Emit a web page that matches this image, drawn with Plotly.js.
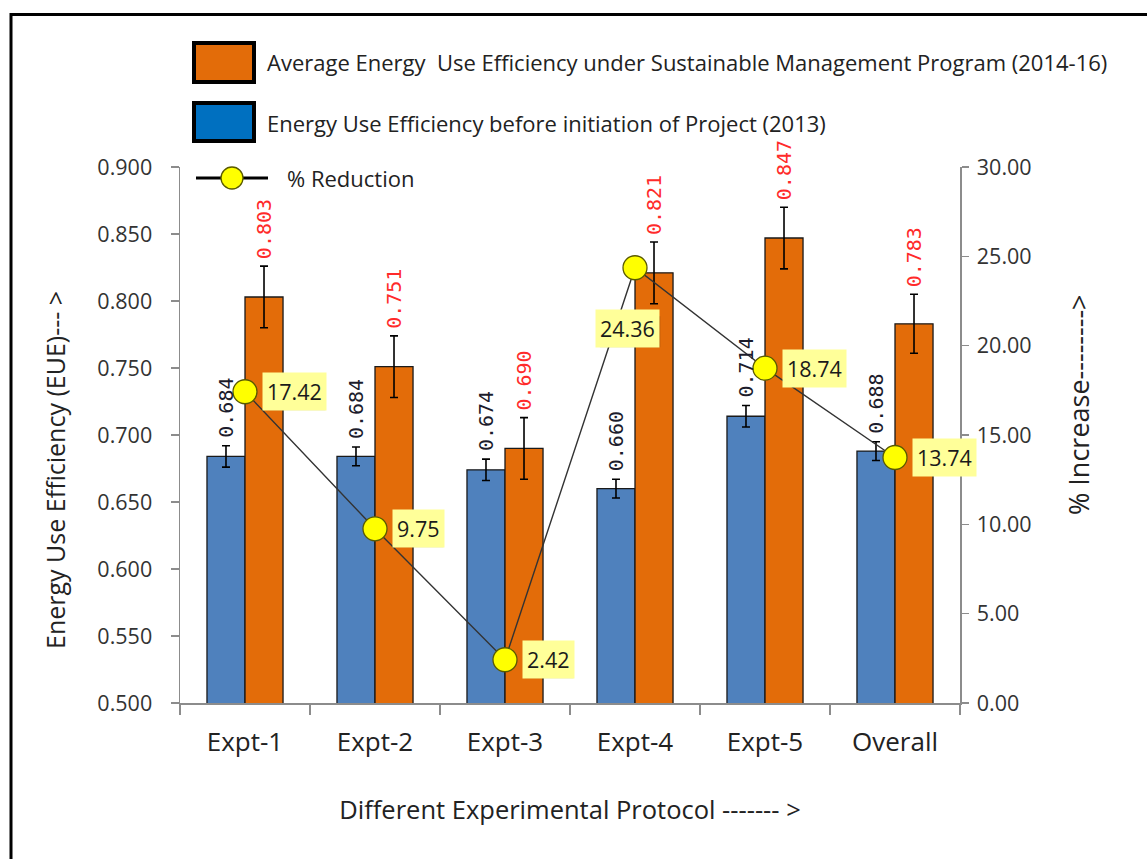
<!DOCTYPE html>
<html>
<head>
<meta charset="utf-8">
<script src="https://cdn.plot.ly/plotly-3.0.1.min.js"></script>
<style>html,body{margin:0;padding:0;background:#fff;}#chart{width:1147px;height:859px;}</style>
</head>
<body>
<div id="chart"></div>
<script>
// ---- data ----
const categories = ["Expt-1", "Expt-2", "Expt-3", "Expt-4", "Expt-5", "Overall"];
const eueBefore = [0.684, 0.684, 0.674, 0.660, 0.714, 0.688];
const eueBeforeErr = [0.008, 0.007, 0.008, 0.007, 0.008, 0.007];
const eueAfter = [0.803, 0.751, 0.690, 0.821, 0.847, 0.783];
const eueAfterErr = [0.023, 0.023, 0.023, 0.023, 0.023, 0.022];
const pctChange = [17.42, 9.75, 2.42, 24.36, 18.74, 13.74];
const pctLabelSide = ["right", "right", "right", "below", "right", "right"];
const leftTicks = [0.5, 0.55, 0.6, 0.65, 0.7, 0.75, 0.8, 0.85, 0.9];
const rightTicks = [0, 5, 10, 15, 20, 25, 30];
const legendAfter = "Average Energy  Use Efficiency under Sustainable Management Program (2014-16)";
const legendBefore = "Energy Use Efficiency before initiation of Project (2013)";
const legendPct = "% Reduction";
const xTitle = "Different Experimental Protocol ------- >";
const yTitle = "Energy Use Efficiency (EUE)--- >";
const y2Title = "% Increase-------->";

// ---- styles ----
const FONT = "'Open Sans', Lato, sans-serif";
const MONO = "'DejaVu Sans Mono', monospace";
const BLUE = "#4F81BD", ORANGE = "#E36C09";

const traces = [
  {
    type: "bar", x: categories, y: eueBefore, name: legendBefore,
    marker: {color: BLUE, line: {color: "#1a1a1a", width: 1.3}},
    error_y: {type: "data", array: eueBeforeErr, visible: true, color: "#000", thickness: 1.6, width: 4},
    hoverinfo: "y"
  },
  {
    type: "bar", x: categories, y: eueAfter, name: legendAfter,
    marker: {color: ORANGE, line: {color: "#1a1a1a", width: 1.3}},
    error_y: {type: "data", array: eueAfterErr, visible: true, color: "#000", thickness: 1.6, width: 4},
    hoverinfo: "y"
  },
  {
    type: "scatter", mode: "lines+markers", x: categories, y: pctChange, yaxis: "y2", name: legendPct,
    line: {color: "#333", width: 1.4},
    marker: {color: "#FFFF00", size: 24, line: {color: "#5a5a00", width: 1.3}},
    hoverinfo: "y"
  }
];

const annotations = [];
const shapes = [];
// rotated value labels above the error bars
categories.forEach((c, i) => {
  annotations.push({
    x: c, y: eueBefore[i] + eueBeforeErr[i], xref: "x", yref: "y",
    text: eueBefore[i].toFixed(3), showarrow: false, textangle: -90,
    xanchor: "center", yanchor: "bottom", xshift: -19, yshift: 6,
    font: {family: MONO, size: 20, color: "#1c1c2c"}
  });
  annotations.push({
    x: c, y: eueAfter[i] + eueAfterErr[i], xref: "x", yref: "y",
    text: eueAfter[i].toFixed(3), showarrow: false, textangle: -90,
    xanchor: "center", yanchor: "bottom", xshift: 19, yshift: 5,
    font: {family: MONO, size: 20, color: "#FF2A2A"}
  });
});
// percent labels with a drop-shadow box
categories.forEach((c, i) => {
  const below = pctLabelSide[i] === "below";
  const txt = pctChange[i].toFixed(2);
  const xs = below ? -8 : 17, ys = below ? -61 : 0;
  const w = (txt.length - 1) * 12 + 12.5, h = 31;
  const left = below ? xs - w / 2 : xs;
  shapes.push({
    type: "rect", xref: "x", yref: "y2", xsizemode: "pixel", ysizemode: "pixel",
    xanchor: c, yanchor: pctChange[i],
    x0: left + 3, x1: left + w + 3, y0: ys - h / 2 - 3, y1: ys + h / 2 - 3,
    line: {width: 0}, fillcolor: "rgba(0,0,0,0.22)", layer: "above"
  });
  annotations.push({
    x: c, y: pctChange[i], xref: "x", yref: "y2", text: txt, showarrow: false,
    xanchor: below ? "center" : "left", yanchor: "middle",
    xshift: xs, yshift: ys, borderpad: 4,
    bgcolor: "#FFFF99", font: {family: FONT, size: 21.5, color: "#1a1a1a"}
  });
});

// custom legend + side titles (paper coordinates from pixel positions)
const W = 780, H = 536, L = 180, B = 703;
const px = v => (v - L) / W;
const py = v => (B - v) / H;
annotations.push(
  {xref: "paper", yref: "paper", x: px(265), y: py(62), xanchor: "left", yanchor: "middle", showarrow: false,
   text: legendAfter, font: {family: FONT, size: 22, color: "#222"}},
  {xref: "paper", yref: "paper", x: px(265), y: py(123), xanchor: "left", yanchor: "middle", showarrow: false,
   text: legendBefore, font: {family: FONT, size: 22, color: "#222"}},
  {xref: "paper", yref: "paper", x: px(285), y: py(178), xanchor: "left", yanchor: "middle", showarrow: false,
   text: legendPct, font: {family: FONT, size: 22, color: "#222"}},
  {xref: "paper", yref: "paper", x: px(55), y: py(470), xanchor: "center", yanchor: "middle", showarrow: false,
   textangle: -90, text: yTitle, font: {family: FONT, size: 25, color: "#222"}},
  {xref: "paper", yref: "paper", x: px(1078), y: py(405), xanchor: "center", yanchor: "middle", showarrow: false,
   textangle: -90, text: y2Title, font: {family: FONT, size: 27, color: "#222"}}
);
shapes.push(
  {type: "rect", xref: "paper", yref: "paper", x0: px(11), x1: px(1170), y0: py(14.5), y1: py(880),
   line: {color: "#000", width: 3}, fillcolor: "rgba(0,0,0,0)", layer: "below"},
  {type: "rect", xref: "paper", yref: "paper", x0: px(194), x1: px(254), y0: py(43), y1: py(82),
   line: {color: "#000", width: 4}, fillcolor: ORANGE},
  {type: "rect", xref: "paper", yref: "paper", x0: px(194), x1: px(254), y0: py(103), y1: py(141),
   line: {color: "#000", width: 4}, fillcolor: "#0070C0"},
  {type: "line", xref: "paper", yref: "paper", x0: px(196), x1: px(268), y0: py(178), y1: py(178),
   line: {color: "#000", width: 3}},
  {type: "circle", xref: "paper", yref: "paper", x0: px(221), x1: px(243), y0: py(167), y1: py(189),
   line: {color: "#5a5a00", width: 1.3}, fillcolor: "#FFFF00"}
);

const layout = {
  width: 1147, height: 859,
  margin: {l: 180, r: 187, t: 167, b: 156},
  paper_bgcolor: "#fff", plot_bgcolor: "#fff",
  showlegend: false,
  barmode: "group", bargap: 0.415, bargroupgap: 0,
  font: {family: FONT, size: 20, color: "#333"},
  xaxis: {
    type: "category", range: [-0.5, categories.length - 0.5], autorange: false,
    showline: true, linecolor: "#8c8c8c", linewidth: 1.5,
    ticks: "outside", tickson: "boundaries", ticklen: 10, tickcolor: "#8c8c8c", tickwidth: 1.5,
    tickfont: {family: FONT, size: 26, color: "#222"}, ticklabelstandoff: 15,
    showgrid: false, zeroline: false,
    title: {text: xTitle, font: {family: FONT, size: 25.5, color: "#222"}, standoff: 43}
  },
  yaxis: {
    range: [0.5, 0.9], autorange: false, tickvals: leftTicks, tickformat: ".3f",
    showline: true, linecolor: "#8c8c8c", linewidth: 1.5,
    ticks: "outside", ticklen: 8, tickcolor: "#8c8c8c", tickwidth: 1.5,
    tickfont: {family: FONT, size: 21.5, color: "#333"}, ticklabelstandoff: 14,
    showgrid: false, zeroline: false
  },
  yaxis2: {
    range: [0, 30], autorange: false, tickvals: rightTicks, tickformat: ".2f", overlaying: "y", side: "right",
    showline: true, linecolor: "#8c8c8c", linewidth: 1.5,
    ticks: "outside", ticklen: 7, tickcolor: "#8c8c8c", tickwidth: 1.5,
    tickfont: {family: FONT, size: 21.5, color: "#333"}, ticklabelstandoff: 4,
    showgrid: false, zeroline: false
  },
  annotations: annotations,
  shapes: shapes
};

Plotly.newPlot("chart", traces, layout, {displayModeBar: false, staticPlot: true});
</script>
</body>
</html>
